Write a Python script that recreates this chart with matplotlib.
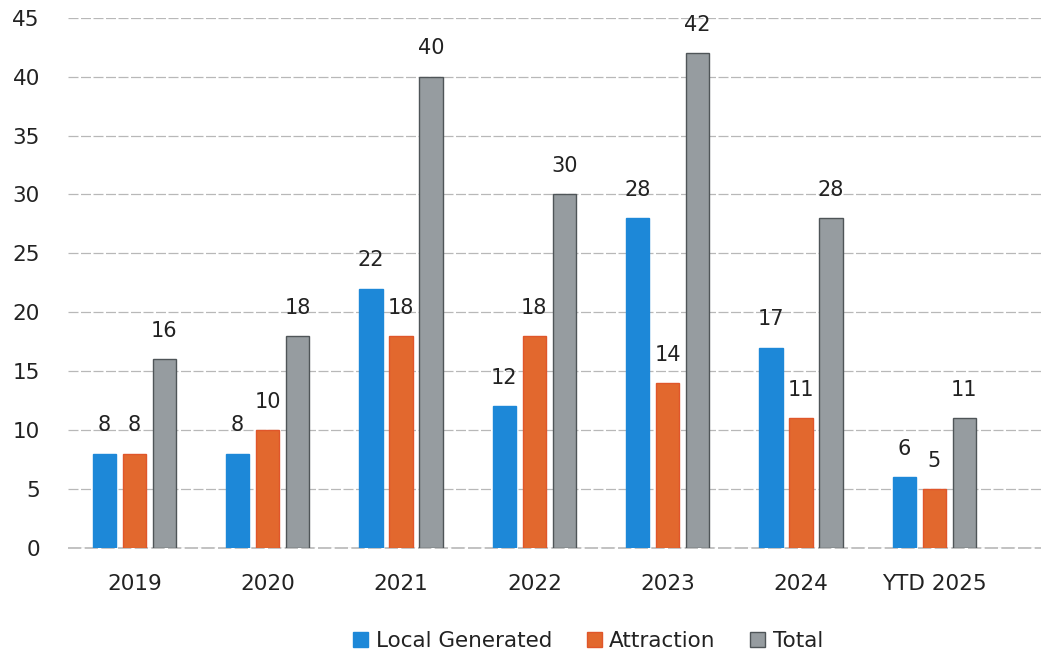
import matplotlib
matplotlib.use("Agg")
import matplotlib.pyplot as plt
import numpy as np

categories = ["2019", "2020", "2021", "2022", "2023", "2024", "YTD 2025"]
local_generated = [8, 8, 22, 12, 28, 17, 6]
attraction = [8, 10, 18, 18, 14, 11, 5]
total = [16, 18, 40, 30, 42, 28, 11]
series_names = ["Local Generated", "Attraction", "Total"]
y_ticks = [0, 5, 10, 15, 20, 25, 30, 35, 40, 45]

plt.rcParams['font.family'] = ['DejaVu Sans']

fig = plt.figure(figsize=(10.41, 6.56), dpi=100)
ax = fig.add_axes([0.065, 0.165, 0.935, 0.808])

x = np.arange(len(categories))
w = 0.175
off = 0.225
colors = ["#1D88D8", "#E2682E", "#969CA0"]
edges = ["#1D88D8", "#E0562A", "#4F5558"]
series = [local_generated, attraction, total]
for i, (vals, c, e, name) in enumerate(zip(series, colors, edges, series_names)):
    bars = ax.bar(x + (i - 1) * off, vals, width=w, color=c, edgecolor=e,
                  linewidth=1.0, label=name, zorder=3)
    for b, v in zip(bars, vals):
        ax.annotate(f"{v}", (b.get_x() + b.get_width() / 2, v),
                    xytext=(0, 16), textcoords="offset points",
                    ha="center", va="baseline", fontsize=15, color="#222222")

ax.set_ylim(0, 45)
ax.set_xlim(-0.5, 6.8)
ax.set_yticks(y_ticks)
ax.set_xticks(x)
ax.set_xticklabels(categories)
ax.tick_params(axis="y", labelsize=15.5, labelcolor="#222222", length=0, pad=20)
ax.tick_params(axis="x", labelsize=15.5, labelcolor="#222222", length=0, pad=19)
for s in ax.spines.values():
    s.set_visible(False)
ax.yaxis.grid(True, color="#b8b8b8", linewidth=0.9, linestyle=(0, (8, 2)), zorder=0)
ax.axhline(0, color="#b8b8b8", linewidth=1.2, linestyle=(0, (8, 2)), zorder=1, clip_on=False)
ax.set_axisbelow(True)

leg = fig.legend(loc="lower center", bbox_to_anchor=(0.565, -0.022), ncol=3,
                 frameon=False, fontsize=15.5, handlelength=0.7, handleheight=0.7,
                 handletextpad=0.35, columnspacing=1.6, labelcolor="#222222")

fig.savefig("out.png", dpi=100)
